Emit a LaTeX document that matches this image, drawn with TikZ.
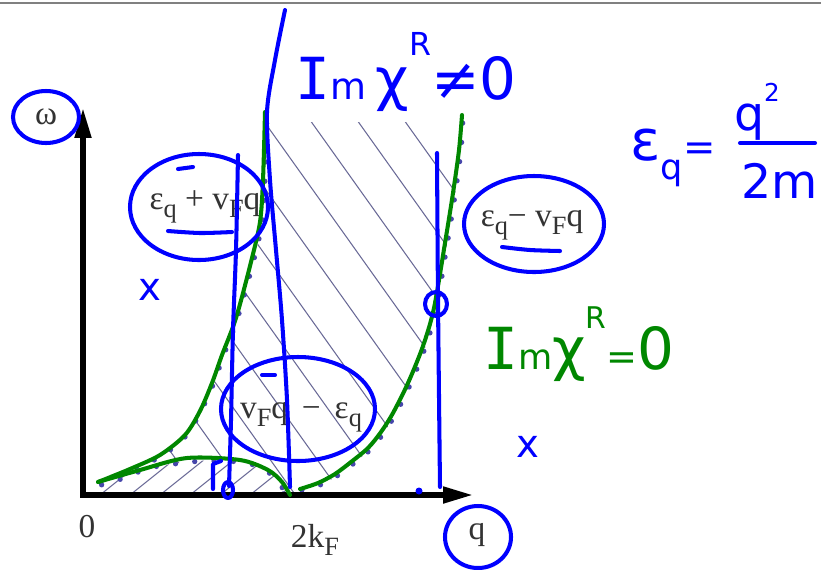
\documentclass[tikz,border=0pt]{standalone}
\usepackage{fontspec}
\setmainfont{Liberation Serif}
\newfontfamily\handfont{DejaVu Sans}
\newfontfamily\handmono{DejaVu Sans Mono}
\usetikzlibrary{positioning, arrows.meta, shapes.geometric, calc}
\definecolor{hatchc}{RGB}{105,105,150}
\definecolor{dotc}{RGB}{70,70,170}
\definecolor{inkgreen}{RGB}{0,135,0}
\newcommand{\lowsub}[1]{\raisebox{-0.55ex}{\fontsize{15}{15}\selectfont #1}}

\begin{document}
\begin{tikzpicture}[x=0.02cm, y=-0.02cm,
  axis/.style={line width=3pt, line join=miter, {Triangle[length=17pt, width=9pt]}-{Triangle[length=17pt, width=9pt]}},
  lab/.style={font=\fontsize{19}{21}\selectfont, text=black!80, inner sep=1pt},
  pen/.style={draw=blue, line width=2.3pt, line cap=round, line join=round},
  gpen/.style={draw=inkgreen, line width=2.3pt, line cap=round, line join=round},
  dotcurve/.style={draw=dotc, line width=3pt, line cap=round, dash pattern=on 0pt off 11pt},
  hatch/.style={draw=hatchc, line width=0.6pt},
  hand/.style={font=\handfont\fontsize{33}{35}\selectfont, text=blue, inner sep=0pt},
  ghand/.style={hand, text=inkgreen}
]
\useasboundingbox (0,0) rectangle (821,569);
% screenshot edge
\draw[gray, line width=1.2pt] (0,3) -- (821,3);

% hatched band between the curves
\begin{scope}
  \clip plot[smooth] coordinates {(83,490) (130,470) (160,457) (185,437) (200,413) (213,385) (223,357) (237,320) (253,263) (262,223) (265,180) (266,122)}
    -- (463,122)
    -- plot[smooth] coordinates {(463,122) (461,150) (455,195) (447,245) (436,310) (425,348) (410,385) (395,415) (383,434) (370,450) (353,464) (337,476) (320,485) (302,490) (290,494)}
    -- plot[smooth] coordinates {(290,494) (283,484) (270,472) (240,461) (215,460) (188,462) (148,468) (110,481) (83,490)}
    -- cycle;
  \foreach \c in {-160,-113,...,450}
    \draw[hatch] (\c,120) -- ++(271,380);
\end{scope}
% hatching under the hump
\begin{scope}
  \clip (83,495) -- plot[smooth] coordinates {(83,490) (110,481) (148,468) (188,462) (215,460) (240,461) (270,472) (283,484) (290,495)} -- cycle;
  \foreach \c in {100,130,...,300}
    \draw[hatch] (\c,495) -- ++(60,-48);
\end{scope}

% printed curves
\draw[dotcurve] plot[smooth] coordinates {(83,490) (130,470) (160,457) (185,437) (200,413) (213,385) (223,357) (237,320) (253,263) (262,223) (265,180) (267,110)};
\draw[dotcurve] plot[smooth] coordinates {(83,490) (108,483) (127,477) (148,468) (168,465) (188,462) (215,461) (240,462) (260,467) (275,478) (285,492)};
\draw[dotcurve] plot[smooth] coordinates {(283,494) (302,490) (320,485) (337,476) (353,464) (370,450) (383,434) (395,415) (410,385) (425,348) (436,310) (447,245) (455,195) (461,150) (463,115)};

% axes
\coordinate (O) at (83,495);
\coordinate (wtip) at (83,108);
\coordinate (qtip) at (473,495);
\draw[axis] (wtip) -- (O) -- (qtip);

\node[lab] (wlab) at (46,117) {ω};
\node[lab] (zero) at (87,527) {0};
\node[lab] (kf) at (315,540) {2k\lowsub{F}};
\node[lab] (qlab) at (477,535) {q};
\node[lab] (epv) at (205,207) {ε\lowsub{q} + v\lowsub{F}q};
\node[lab] (emv) at (532,225) {ε\lowsub{q}− v\lowsub{F}q};
\node[lab] (vme) at (301,417) {v\lowsub{F}q \,−\, ε\lowsub{q}};

% green traces
\draw[gpen] plot[smooth] coordinates {(98,482) (130,469) (160,455) (185,435) (200,411) (212,383) (222,355) (236,318) (251,262) (260,222) (263,180) (265,112)};
\draw[gpen] plot[smooth] coordinates {(98,482) (140,470) (187,458) (240,460) (268,470) (282,482) (290,495)};
\draw[gpen] plot[smooth] coordinates {(300,489) (318,483) (335,474) (351,462) (368,448) (381,432) (393,413) (408,383) (423,346) (434,308) (445,243) (453,193) (459,150) (462,115)};

% blue pen marks
\draw[pen] plot[smooth] coordinates {(285,10) (275,60) (267,112) (270,180) (276,250) (282,320) (287,400) (290,487)};
\draw[pen] plot[smooth] coordinates {(238,155) (236,250) (233,330) (231,420) (229,486)};
\draw[pen] (228,490) ellipse [x radius=5, y radius=8];
\draw[pen] (213,489) -- (213,464) -- (221,461);
\draw[pen] plot[smooth] coordinates {(437,153) (438,300) (440,487)};
\draw[pen] (436,304) ellipse [x radius=11, y radius=12];
\fill[blue] (419,491) circle [radius=3.5];

\draw[pen] (wlab) ellipse [x radius=33, y radius=26];
\draw[pen] ($(qlab)+(1,2)$) ellipse [x radius=33, y radius=31];
\draw[pen] ($(epv)+(-6,0)$) ellipse [x radius=69, y radius=53];
\draw[pen] (178,169) -- (193,167);
\draw[pen] plot[smooth] coordinates {(168,231) (200,233) (232,232)};
\draw[pen] ($(emv)+(2,-1)$) ellipse [x radius=70, y radius=48];
\draw[pen] plot[smooth] coordinates {(502,247) (530,250) (560,251)};
\draw[pen] ($(vme)+(-3,-8)$) ellipse [x radius=77, y radius=52];
\draw[pen] (262,375) -- (275,375);

% handwriting
\node[hand, anchor=base west] (imne) at (295,99) {{\handmono I}{\fontsize{21}{21}\selectfont m}\,χ\raisebox{0.75em}{\fontsize{18}{18}\selectfont R}≠0};
\node[ghand, anchor=base west] (imeq) at (483,369) {{\handmono I}{\fontsize{20}{20}\selectfont m}χ\raisebox{0.7em}{\fontsize{17}{17}\selectfont R}{\fontsize{21}{21}\selectfont =}0};
\node[hand, anchor=base west, font=\handfont\fontsize{32}{34}\selectfont] (eps) at (630,160) {ε\raisebox{-0.35em}{\fontsize{20}{20}\selectfont q}{\fontsize{22}{22}\selectfont =}};
\node[hand, anchor=base, font=\handfont\fontsize{27}{29}\selectfont] (num) at (757,130) {q\raisebox{0.6em}{\fontsize{14}{14}\selectfont 2}};
\node[hand, anchor=base, font=\handfont\fontsize{27}{29}\selectfont] (den) at (780,198) {2m};
\draw[pen] (740,143) -- (815,143);
\node[hand, font=\handfont\fontsize{22}{24}\selectfont] (xa) at (150,290) {x};
\node[hand, font=\handfont\fontsize{22}{24}\selectfont] (xb) at (528,447) {x};
\end{tikzpicture}
\end{document}
